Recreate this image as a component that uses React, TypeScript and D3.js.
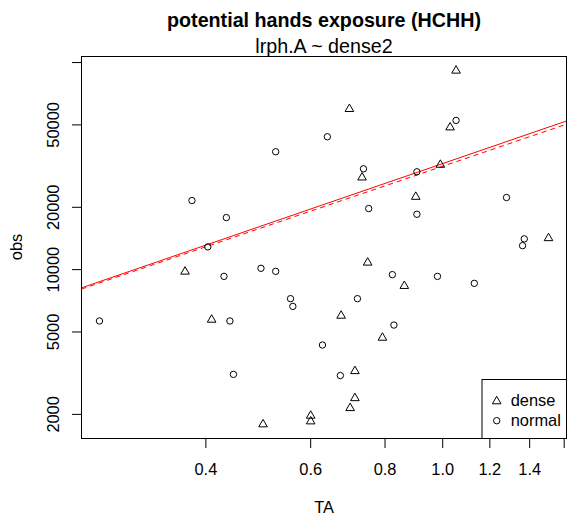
import React from 'react';
import * as d3 from 'd3';

// ---- data ----
const denseTA = [0.369, 0.409, 0.499, 0.600, 0.600, 0.699, 0.712, 0.712, 0.675, 0.792, 0.862, 0.748, 0.732, 0.697, 1.053, 1.029, 0.991, 0.901, 1.506];
const denseObs = [9780, 5730, 1790, 1970, 1850, 2145, 2395, 3235, 5990, 4690, 8340, 10810, 27860, 59670, 91400, 48620, 32090, 22470, 14190];

const normalTA = [0.265, 0.379, 0.524, 0.433, 0.403, 0.429, 0.495, 0.524, 0.555, 0.560, 0.719, 0.439, 0.445, 0.628, 0.673, 0.828, 0.823, 0.980, 1.130, 0.640, 0.736, 0.751, 0.905, 0.905, 1.053, 1.280, 1.371, 1.362];
const normalObs = [5650, 21560, 37090, 17840, 12880, 9280, 10150, 9810, 7240, 6645, 7240, 5650, 3120, 4325, 3080, 5400, 9460, 9280, 8585, 43830, 30690, 19730, 29680, 18510, 52560, 22300, 14080, 13060];

const xTicks = [0.4, 0.6, 0.8, 1.0, 1.2, 1.4, 1.6];
const xTickLabels = ['0.4', '0.6', '0.8', '1.0', '1.2', '1.4', ''];
const yTicks = [2000, 5000, 10000, 20000, 50000, 100000];
const yTickLabels = ['2000', '5000', '10000', '20000', '50000', ''];

// log10(obs) = intercept + slope * log10(TA)
const fitSolid = { intercept: 4.5122, slope: 0.989 };
const fitDashed = { intercept: 4.4992, slope: 0.977 };

const legendLabels = ['dense', 'normal'];

const titleText = 'potential hands exposure (HCHH)';
const subtitleText = 'lrph.A ~ dense2';
const xLabel = 'TA';
const yLabel = 'obs';

// ---- layout ----
const W = 568;
const H = 520;
const left = 81.5;
const right = 566.5;
const top = 56.5;
const bottom = 438.5;
const FONT = '"Liberation Sans", Arial, Helvetica, sans-serif';
const PR = 3.2; // R symbol base radius

function logExtent(vals: number[]): [number, number] {
  const lo = Math.log10(d3.min(vals) as number);
  const hi = Math.log10(d3.max(vals) as number);
  const pad = (hi - lo) * 0.04;
  return [Math.pow(10, lo - pad), Math.pow(10, hi + pad)];
}

function trianglePath(cx: number, cy: number) {
  const r = 1.555 * PR;
  const xc = 1.347 * PR;
  const yc = 0.778 * PR;
  return `M${cx},${cy - r}L${cx + xc},${cy + yc}L${cx - xc},${cy + yc}Z`;
}

export default function App() {
  const xDomain = logExtent([...denseTA, ...normalTA]);
  const yDomain = logExtent([...denseObs, ...normalObs]);
  const x = d3.scaleLog().domain(xDomain).range([left, right]);
  const y = d3.scaleLog().domain(yDomain).range([bottom, top]);

  const fitLine = (fit: { intercept: number; slope: number }) => {
    const pts: [number, number][] = xDomain.map((t) => [t, Math.pow(10, fit.intercept + fit.slope * Math.log10(t))]);
    return d3.line<[number, number]>().x((d) => x(d[0])).y((d) => y(d[1]))(pts) as string;
  };

  const cxTitle = (left + right) / 2;

  return (
    <svg width={W} height={H} style={{ position: 'absolute', left: 0, top: 0, background: '#fff' }} fontFamily={FONT}>
      <rect x={0} y={0} width={W} height={H} fill="#fff" />
      <defs>
        <clipPath id="plotclip">
          <rect x={left} y={top} width={right - left} height={bottom - top} />
        </clipPath>
      </defs>

      {/* titles */}
      <text x={cxTitle} y={27} textAnchor="middle" fontSize={19.7} fontWeight="bold" fill="#000">{titleText}</text>
      <text x={cxTitle} y={53} textAnchor="middle" fontSize={19.7} fill="#000">{subtitleText}</text>

      {/* plot box */}
      <rect x={left} y={top} width={right - left} height={bottom - top} fill="none" stroke="#000" strokeWidth={1} />

      {/* x axis */}
      <g>
        {xTicks.map((t, i) => (
          <g key={'xt' + i}>
            <line x1={x(t)} x2={x(t)} y1={bottom} y2={bottom + 9.5} stroke="#000" strokeWidth={1} />
            {xTickLabels[i] && (
              <text x={x(t)} y={475} textAnchor="middle" fontSize={16.4} fill="#000">{xTickLabels[i]}</text>
            )}
          </g>
        ))}
        <text x={cxTitle} y={513} textAnchor="middle" fontSize={16.4} fill="#000">{xLabel}</text>
      </g>

      {/* y axis */}
      <g>
        {yTicks.map((t, i) => (
          <g key={'yt' + i}>
            <line x1={left - 9.5} x2={left} y1={y(t)} y2={y(t)} stroke="#000" strokeWidth={1} />
            {yTickLabels[i] && (
              <text x={59.3} y={y(t)} textAnchor="middle" fontSize={16.4} fill="#000" transform={`rotate(-90, 59.3, ${y(t)})`}>
                {yTickLabels[i]}
              </text>
            )}
          </g>
        ))}
        <text x={21.7} y={247} textAnchor="middle" fontSize={16.4} fill="#000" transform="rotate(-90, 21.7, 247)">{yLabel}</text>
      </g>

      {/* fit lines */}
      <g clipPath="url(#plotclip)">
        <path d={fitLine(fitSolid)} fill="none" stroke="#ff0000" strokeWidth={1} />
        <path d={fitLine(fitDashed)} fill="none" stroke="#ff0000" strokeWidth={1} strokeDasharray="5,4" />
      </g>

      {/* points */}
      <g fill="none" stroke="#000" strokeWidth={1}>
        {denseTA.map((t, i) => (
          <path key={'d' + i} d={trianglePath(x(t), y(denseObs[i]))} />
        ))}
        {normalTA.map((t, i) => (
          <circle key={'n' + i} cx={x(t)} cy={y(normalObs[i])} r={PR} />
        ))}
      </g>

      {/* legend */}
      <g>
        <rect x={482} y={379.5} width={right - 482} height={bottom - 379.5} fill="#fff" stroke="#000" strokeWidth={1} />
        <path d={trianglePath(496.7, 401.3)} fill="none" stroke="#000" strokeWidth={1} />
        <circle cx={496.7} cy={420.7} r={PR} fill="none" stroke="#000" strokeWidth={1} />
        <text x={510.7} y={406} fontSize={16.4} fill="#000">{legendLabels[0]}</text>
        <text x={510.7} y={425.5} fontSize={16.4} fill="#000">{legendLabels[1]}</text>
      </g>
    </svg>
  );
}
